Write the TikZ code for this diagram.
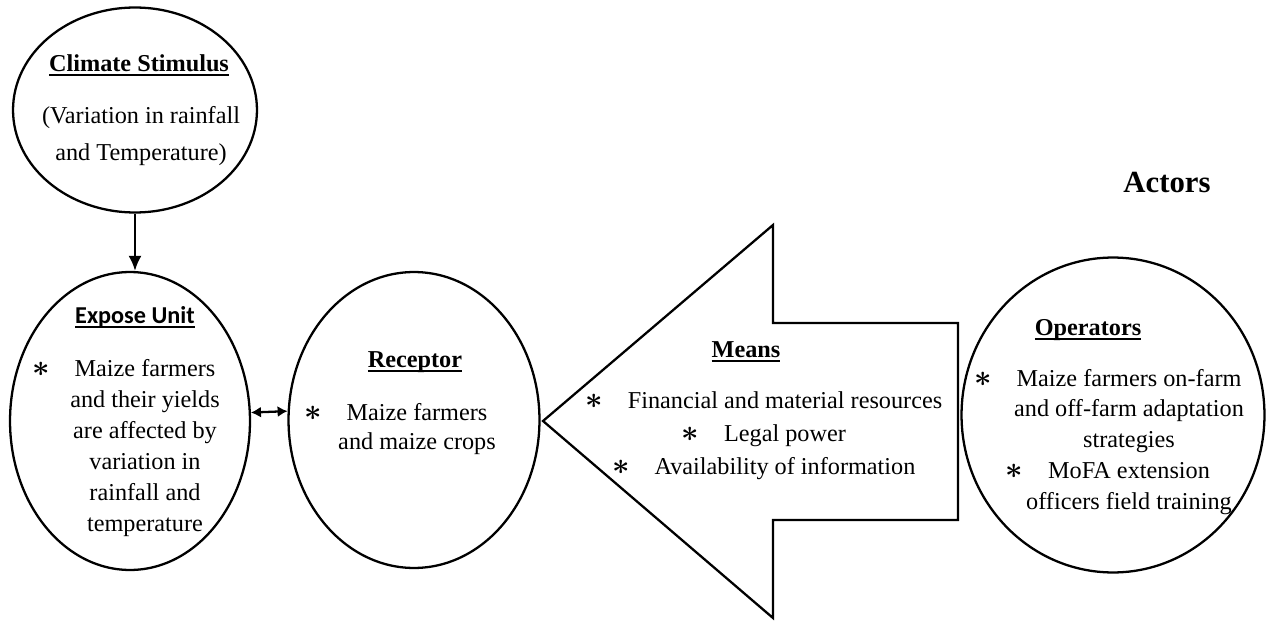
\documentclass[tikz,border=0pt]{standalone}
\usepackage{fontspec}
\setmainfont{Liberation Serif}
\newfontfamily\calfont{Carlito}
\usetikzlibrary{arrows.meta, positioning, shapes.geometric}

\newlength{\hdwd}
\newcommand{\headul}[1]{\settowidth{\hdwd}{#1}#1\llap{\rule[-2.4pt]{\hdwd}{0.9pt}}}
\newcommand{\bul}{\llap{{\fontsize{17}{17}\selectfont\boldmath$\ast$}\hspace{0.5cm}}}

\tikzset{
	blob/.style={draw, ellipse, line width=1.3pt, inner sep=0pt},
	headtxt/.style={inner sep=0pt, font={\fontsize{13.8}{16}\selectfont\bfseries}},
	body/.style={align=center, inner sep=0pt, font={\fontsize{13.8}{17.6}\selectfont}},
	link/.style={line width=1.3pt, -{Latex[length=3mm,width=2.6mm]}},
	twoway/.style={line width=1.3pt, {Latex[length=2mm,width=2.2mm]}-{Latex[length=2mm,width=2.2mm]}}
}

\begin{document}
\begin{tikzpicture}[x=0.02cm, y=-0.02cm]
	\useasboundingbox (0,0) rectangle (1267,621);

	% the four ellipses
	\node[blob, minimum width=4.88cm, minimum height=4.1cm] (clim) at (135,110) {};
	\node[blob, minimum width=4.8cm, minimum height=5.96cm] (expo) at (130,421) {};
	\node[blob, minimum width=5.02cm, minimum height=5.92cm] (recp) at (414,420) {};
	\node[blob, minimum width=6.06cm, minimum height=6.3cm] (oper) at (1113,415) {};

	% the big arrow of the means
	\draw[line width=1.3pt] (543,421) coordinate (tip) -- (773,225) -- (773,323) -- (958,323)
		-- (958,520) -- (773,520) -- (773,618) -- cycle;

	\draw[link] (clim.south) -- (clim.south |- expo.north);
	\draw[twoway] (expo.4) -- (recp.176);

	% texts
	\node[headtxt] (climhd) at (139,65) {\headul{Climate Stimulus}};
	\node[body, font=\fontsize{13.8}{21}\selectfont] (climtxt) at (141,136) {(Variation in rainfall\\and Temperature)};

	\node[headtxt, font=\fontsize{13.8}{16}\selectfont\calfont\bfseries] (expohd) at (135,317) {\headul{Expose Unit}};
	\node[body] (expotxt) at (145,448) {\bul Maize farmers\\and their yields\\are affected by\\variation in\\rainfall and\\temperature};

	\node[headtxt] (recphd) at (415,362) {\headul{Receptor}};
	\node[body, font=\fontsize{13.8}{17}\selectfont] (recptxt) at (417,429) {\bul Maize farmers\\and maize crops};

	\node[headtxt] (meanshd) at (746,352) {\headul{Means}};
	\node[body, font=\fontsize{13.8}{18.7}\selectfont] (meanstxt) at (785,436) {\bul Financial and material resources\\\bul Legal power\\\bul Availability of information};

	\node[headtxt] (operhd) at (1088,330) {\headul{Operators}};
	\node[body] (opertxt) at (1129,442) {\bul Maize farmers on-farm\\and off-farm adaptation\\strategies\\\bul MoFA extension\\officers field training};

	\node[headtxt, font=\fontsize{17.5}{20}\selectfont\bfseries] (actors) at (1167,183) {Actors};
\end{tikzpicture}
\end{document}
